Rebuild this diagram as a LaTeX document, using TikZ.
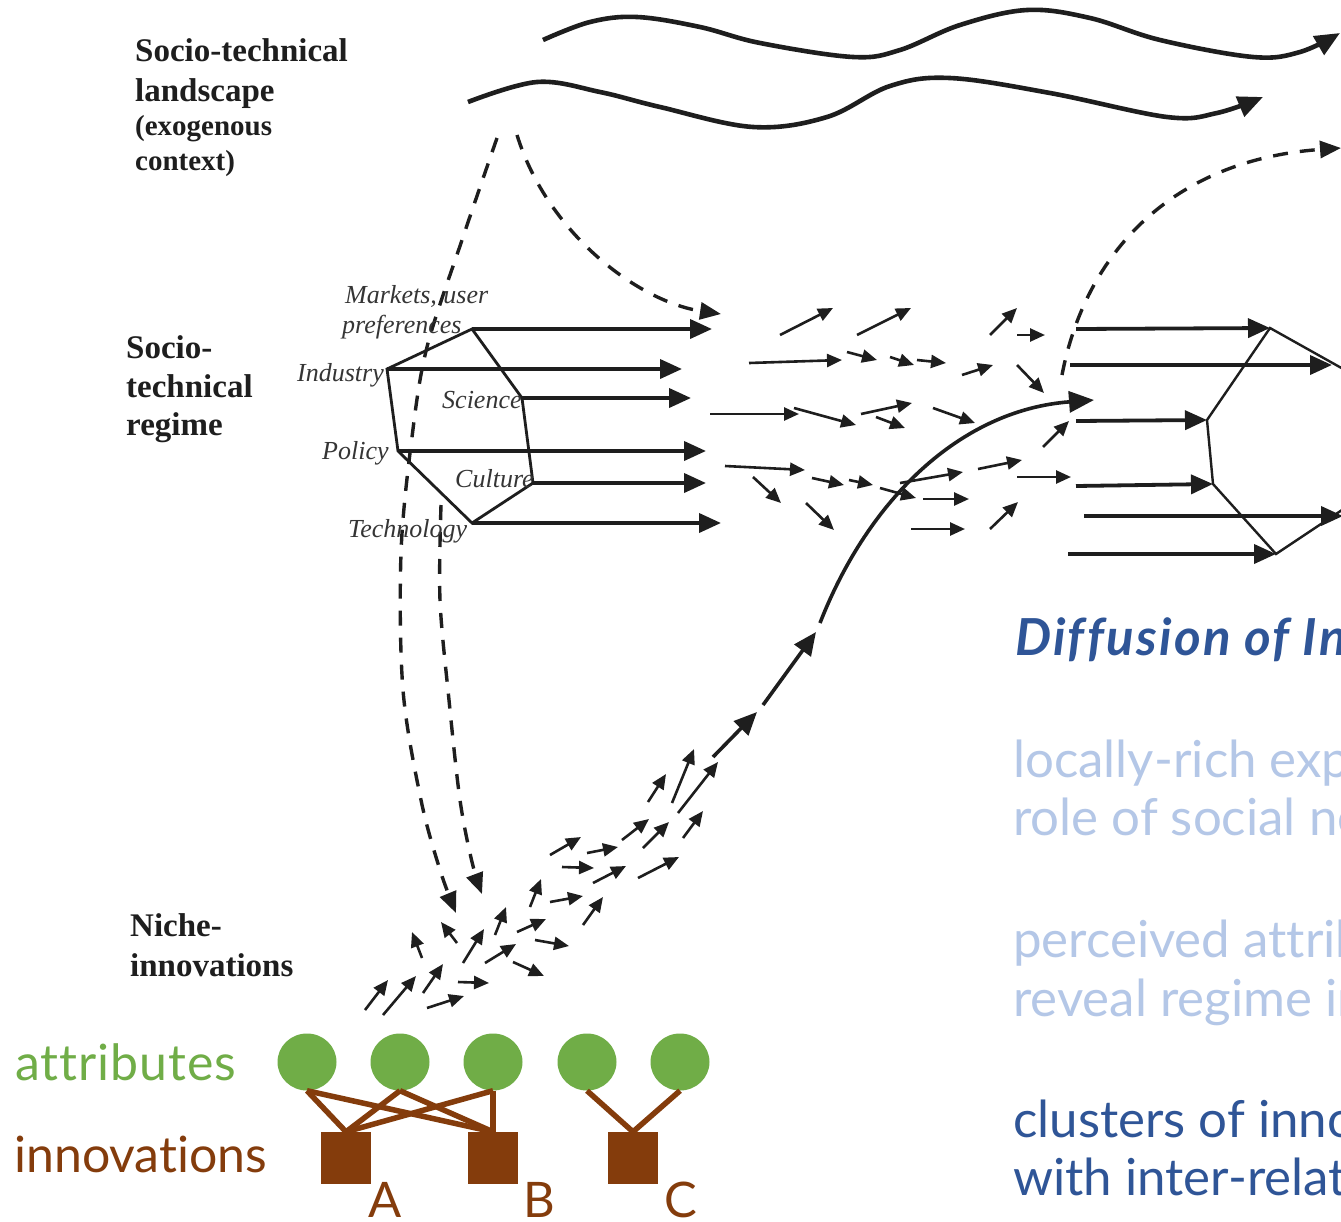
\documentclass[tikz,border=0pt]{standalone}
\usepackage{fontspec}
\setmainfont{Liberation Serif}
\newfontfamily\lato{Lato}[Ligatures=NoCommon]
\newfontfamily\latowide{Lato}[LetterSpace=4.5,Ligatures=NoCommon]
\newfontfamily\latomid{Lato}[LetterSpace=2,Ligatures=NoCommon]
\usetikzlibrary{arrows.meta,shapes.geometric}
\definecolor{dblue}{HTML}{2F5597}
\definecolor{lblue}{HTML}{B4C7E7}
\definecolor{agreen}{HTML}{70AD47}
\definecolor{ibrown}{HTML}{843C0C}
\definecolor{ink}{HTML}{1E1E1E}
\begin{document}
\begin{tikzpicture}[x=1pt,y=-1pt,
  lvl/.style={anchor=base west,inner sep=0pt,text=ink,font=\fontsize{33}{36}\selectfont\bfseries},
  lvlsm/.style={anchor=base west,inner sep=0pt,text=ink,font=\fontsize{29}{32}\selectfont\bfseries},
  dim/.style={anchor=base west,inner sep=0pt,text=ink!90,font=\fontsize{26}{28}\selectfont\itshape},
  rt/.style={anchor=base west,inner sep=0pt,font=\lato\fontsize{51}{56}\selectfont},
  bigarr/.style={draw=ink,line width=3.8pt,-{Triangle[length=22pt,width=19pt]}},
  midarr/.style={draw=ink,line width=3.6pt,-{Triangle[length=23pt,width=20pt]}},
  smarr/.style={draw=ink,line width=2.6pt,-{Triangle[length=15pt,width=13pt]}},
  dasharr/.style={draw=ink,line width=3.4pt,dash pattern=on 15pt off 12pt,-{Triangle[length=21pt,width=17pt]}},
  wave/.style={draw=ink,line width=4.6pt,-{Triangle[length=25pt,width=21pt]}},
  hexline/.style={draw=ink,line width=2.8pt,line join=miter},
  attr/.style={ellipse,fill=agreen,minimum width=59pt,minimum height=57pt,inner sep=0pt},
  innov/.style={rectangle,fill=ibrown,minimum width=50pt,minimum height=52pt,inner sep=0pt},
  link/.style={draw=ibrown,line width=5.5pt},
  letter/.style={anchor=base,inner sep=0pt,text=ibrown,font=\lato\fontsize{49}{50}\selectfont}]
\useasboundingbox (0,0) rectangle (1341,1221);
\fill[white] (0,0) rectangle (1341,1221);
\begin{scope}
\clip (0,0) rectangle (1341,1221);

% ---------- level labels ----------
\node[lvl] (land1) at (135,61) {Socio-technical};
\node[lvl] (land2) at (135,101) {landscape};
\node[lvlsm] (land3) at (135,135) {(exogenous};
\node[lvlsm] (land4) at (135,170) {context)};
\node[lvl] (reg1) at (126,358) {Socio-};
\node[lvl] (reg2) at (126,397) {technical};
\node[lvl] (reg3) at (126,435) {regime};
\node[lvl] (nic1) at (130,936) {Niche-};
\node[lvl] (nic2) at (130,976) {innovations};

% ---------- landscape waves ----------
\draw[wave] plot[smooth,tension=0.6] coordinates {(543,40) (590,22) (637,17) (700,27) (760,43) (853,57) (900,50) (960,25) (1027,10) (1090,18) (1160,40) (1253,57) (1300,52) (1340,33)};
\draw[wave] plot[smooth,tension=0.6] coordinates {(468,102) (537,82) (600,92) (660,107) (753,127) (827,117) (890,86) (950,78) (1050,93) (1167,117) (1217,113) (1263,97)};

% ---------- left regime hexagon ----------
\coordinate (HM) at (472,329);
\coordinate (HI) at (387,369);
\coordinate (HS) at (522,398);
\coordinate (HP) at (398,451);
\coordinate (HC) at (533,483);
\coordinate (HT) at (472,523);
\coordinate (HMe) at (712,329);
\coordinate (HIe) at (682,369);
\coordinate (HSe) at (691,398);
\coordinate (HPe) at (706,451);
\coordinate (HCe) at (706,483);
\coordinate (HTe) at (721,523);

% dashed influences
\coordinate (LtopL) at (497,138);
\coordinate (LtopR) at (517,135);
\coordinate (Dreg) at (721,314);
\draw[dasharr] (LtopR) .. controls (548,235) and (640,302) .. (Dreg);
\draw[dasharr] plot[smooth,tension=0.55] coordinates {(497,138) (462,240) (427,347) (412,437) (401,553) (403,690) (421,800) (440,870) (456,913)};
\draw[dasharr] plot[smooth,tension=0.55] coordinates {(441,505) (440,600) (449,700) (460,800) (472,862) (482,894)};

\draw[hexline] (HM) -- (HI) -- (HP) -- (HT) -- (HC) -- (HS) -- cycle;
\draw[bigarr] (HM) -- (HMe);
\draw[bigarr] (HI) -- (HIe);
\draw[bigarr] (HS) -- (HSe);
\draw[bigarr] (HP) -- (HPe);
\draw[bigarr] (HC) -- (HCe);
\draw[bigarr] (HT) -- (HTe);

\node[dim] (mk1) at (345,303) {Markets, user};
\node[dim] (mk2) at (342,333) {preferences};
\node[dim] (ind) at (297,381) {Industry};
\node[dim] (sci) at (442,408) {Science};
\node[dim] (pol) at (322,459) {Policy};
\node[dim] (cul) at (455,487) {Culture};
\node[dim] (tec) at (348,537) {Technology};

% ---------- right regime ----------
\coordinate (RA) at (1270,328);
\coordinate (RB) at (1207,420);
\coordinate (RC) at (1213,484);
\coordinate (RD) at (1276,554);
\draw[draw=ink,line width=2.4pt,line join=miter] (1345,370) -- (RA) -- (RB) -- (RC) -- (RD) -- (1345,508);
\draw[bigarr] (1076,329) -- (RA);
\draw[bigarr] (1070,365) -- (1332,365);
\draw[bigarr] (1076,421) -- (RB);
\draw[bigarr] (1076,486) -- (RC);
\draw[bigarr] (1084,516) -- (1343,516);
\draw[bigarr] (1068,554) -- (RD);

\coordinate (Rdash) at (1062,375);
\coordinate (Rdashe) at (1341,148);
\draw[dasharr] (Rdash) .. controls (1085,255) and (1170,160) .. (Rdashe);

% ---------- diffusion arrows in regime ----------
\foreach \a/\b/\c/\d in {
 780/335/833/308, 857/335/911/308, 990/335/1017/308, 1017/335/1045/335,
 749/363/842/360, 847/352/877/360, 890/357/914/365, 917/360/946/363,
 962/375/993/365, 1017/365/1044/393,
 710/414/799/414, 794/408/856/425, 861/414/912/403, 876/417/905/428,
 933/408/975/423, 1043/447/1069/421,
 725/466/805/470, 753/477/781/503, 812/478/844/485, 849/480/873/485,
 880/488/916/498, 900/483/963/472, 978/469/1022/460, 1017/477/1071/477,
 923/499/969/499, 806/503/834/530, 911/529/965/529, 990/529/1018/502}
 \draw[smarr] (\a,\b) -- (\c,\d);

% ---------- niche arrows ----------
\foreach \a/\b/\c/\d in {
 365/1010/388/980, 383/1015/416/976, 423/993/443/964, 427/1008/464/996,
 458/982/489/983, 422/958/412/932, 457/943/441/922, 463/963/484/929,
 485/963/516/944, 513/962/544/976, 495/935/506/907, 517/932/546/919,
 535/940/569/946, 530/907/541/879, 550/902/583/896, 583/925/603/897,
 550/855/581/837, 562/867/594/868, 587/853/618/847, 593/883/626/866,
 622/840/649/819, 643/848/669/822, 638/878/679/857, 648/802/666/774,
 672/803/694/749, 678/813/718/762, 683/838/703/811}
 \draw[smarr] (\a,\b) -- (\c,\d);

% ---------- main breakthrough path ----------
\coordinate (P0) at (713,757);
\coordinate (P1) at (757,712);
\coordinate (P2) at (763,705);
\coordinate (P3) at (816,632);
\coordinate (P4) at (820,623);
\coordinate (P5) at (1094,400);
\draw[midarr] (P0) -- (P1);
\draw[midarr] (P2) -- (P3);
\draw[draw=ink,line width=3.6pt,-{Triangle[length=25pt,width=21pt]}] (P4) .. controls (868,500) and (960,410) .. (P5);

% ---------- right text ----------
\node[anchor=base west,inner sep=0pt,text=dblue,font=\latowide\fontsize{51}{56}\selectfont\bfseries\itshape] (diff) at (1015,655) {Diffusion of Innovations};
\node[rt,text=lblue] (t1) at (1013,777) {locally-rich exploration};
\node[rt,text=lblue] (t2) at (1013,835) {role of social networks};
\node[rt,text=lblue] (t3) at (1013,957) {perceived attributes};
\node[rt,text=lblue] (t4) at (1013,1016) {reveal regime inertia};
\node[rt,text=dblue] (t5) at (1013,1137) {clusters of innovations};
\node[rt,text=dblue] (t6) at (1013,1195) {with inter-related attributes};

% ---------- attributes / innovations ----------
\node[anchor=base west,inner sep=0pt,text=agreen,font=\latomid\fontsize{50}{52}\selectfont] (attrlab) at (15,1080) {attributes};
\node[anchor=base west,inner sep=0pt,text=ibrown,font=\lato\fontsize{50}{52}\selectfont] (innlab) at (14,1172) {innovations};

\node[attr] (a1) at (307,1062) {};
\node[attr] (a2) at (400,1062) {};
\node[attr] (a3) at (493,1062) {};
\node[attr] (a4) at (587,1062) {};
\node[attr] (a5) at (680,1062) {};
\node[innov] (iA) at (346,1158) {};
\node[innov] (iB) at (493,1158) {};
\node[innov] (iC) at (633,1158) {};
\draw[link] (a1.south) -- (iA.north);
\draw[link] (a1.south) -- (iB.north);
\draw[link] (a2.south) -- (iA.north);
\draw[link] (a2.south) -- (iB.north);
\draw[link] (a3.south) -- (iA.north);
\draw[link] (a3.south) -- (iB.north);
\draw[link] (a4.south) -- (iC.north);
\draw[link] (a5.south) -- (iC.north);
\node[letter] (lA) at (385,1217) {A};
\node[letter] (lB) at (539,1217) {B};
\node[letter] (lC) at (681,1217) {C};
\end{scope}
\end{tikzpicture}
\end{document}
